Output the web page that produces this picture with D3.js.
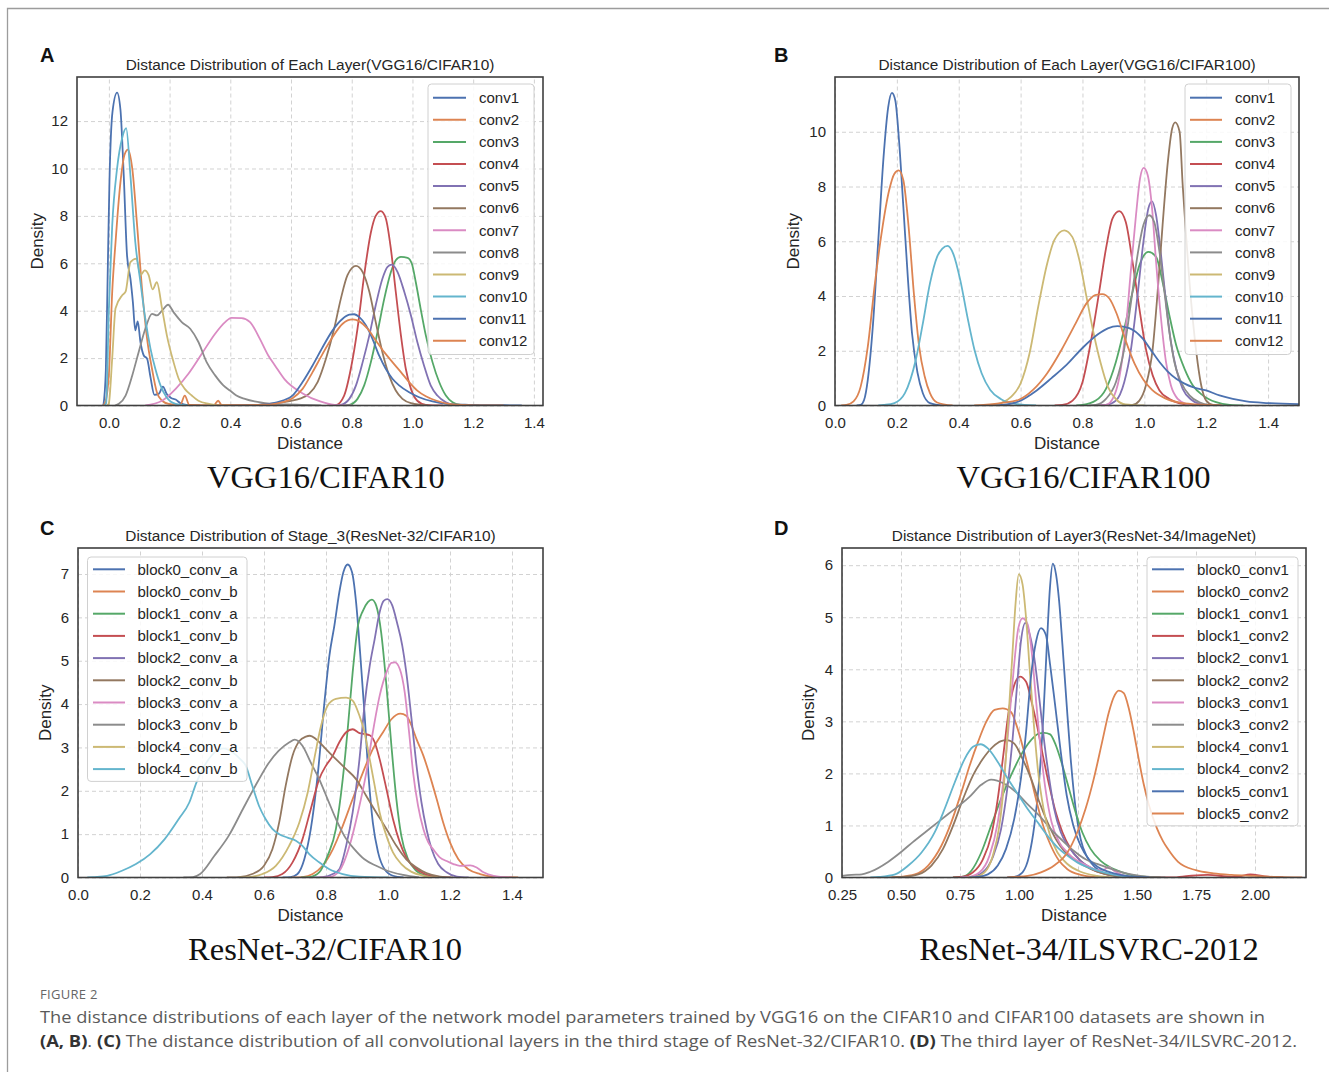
<!DOCTYPE html>
<html><head><meta charset="utf-8">
<script src="https://cdn.jsdelivr.net/npm/d3@7"></script>
<style>body{margin:0;background:#fff;} svg{display:block;}</style>
</head><body>
<svg id="fig" width="1329" height="1072"></svg>
<script>
// ---------------- DATA ----------------
const PALETTE = ["#4C72B0","#DD8452","#55A868","#C44E52","#8172B3","#937860","#DA8BC3","#8C8C8C","#CCB974","#64B5CD"];

const A_labels = ["conv1","conv2","conv3","conv4","conv5","conv6","conv7","conv8","conv9","conv10","conv11","conv12"];
const B_labels = A_labels;
const C_labels = ["block0_conv_a","block0_conv_b","block1_conv_a","block1_conv_b","block2_conv_a","block2_conv_b","block3_conv_a","block3_conv_b","block4_conv_a","block4_conv_b"];
const D_labels = ["block0_conv1","block0_conv2","block1_conv1","block1_conv2","block2_conv1","block2_conv2","block3_conv1","block3_conv2","block4_conv1","block4_conv2","block5_conv1","block5_conv2"];

const A_xticks = [0,0.2,0.4,0.6,0.8,1.0,1.2,1.4];
const A_yticks = [0,2,4,6,8,10,12];
const B_xticks = [0,0.2,0.4,0.6,0.8,1.0,1.2,1.4];
const B_yticks = [0,2,4,6,8,10];
const C_xticks = [0,0.2,0.4,0.6,0.8,1.0,1.2,1.4];
const C_yticks = [0,1,2,3,4,5,6,7];
const D_xticks = [0.25,0.5,0.75,1.0,1.25,1.5,1.75,2.0];
const D_yticks = [0,1,2,3,4,5,6];

// Panel A: VGG16/CIFAR10  [distance, density]
const A_conv1 = [[-0.018,0],[-0.01,1.5],[-0.004,5.5],[0.002,9.5],[0.012,12.4],[0.027,13.2],[0.038,12.5],[0.049,9.7],[0.06,6.3],[0.071,5.35],[0.079,4.37],[0.087,3.17],[0.095,3.55],[0.104,2.68],[0.115,2.11],[0.126,1.97],[0.137,1.2],[0.15,0.45],[0.165,0.5],[0.178,0.8],[0.19,0.5],[0.205,0.32],[0.22,0.25],[0.235,0.1],[0.26,0.02],[0.3,0]];
const A_conv2 = [[-0.02,0],[-0.013,0.1],[0,1.3],[0.011,4.8],[0.022,6.9],[0.038,9.4],[0.052,10.6],[0.063,10.8],[0.077,10.0],[0.093,7.6],[0.11,4.8],[0.126,2.8],[0.142,1.55],[0.158,0.56],[0.175,0.2],[0.197,0.07],[0.235,0.03],[0.25,0.42],[0.265,0.03],[0.345,0.01],[0.36,0.2],[0.372,0.01],[0.45,0]];
const A_conv3 = [[0.76,0],[0.792,0.03],[0.819,0.28],[0.841,0.85],[0.863,1.83],[0.885,3.1],[0.907,4.5],[0.929,5.63],[0.945,6.13],[0.962,6.27],[0.984,6.23],[0.998,5.98],[1.011,5.2],[1.027,4.08],[1.044,2.96],[1.066,1.83],[1.088,0.99],[1.11,0.42],[1.132,0.14],[1.159,0.03],[1.22,0]];
const A_conv4 = [[0.72,0],[0.748,0.02],[0.775,0.42],[0.797,1.55],[0.819,3.24],[0.841,5.5],[0.863,7.3],[0.879,8.0],[0.896,8.2],[0.912,7.9],[0.929,6.6],[0.945,4.8],[0.962,2.96],[0.978,1.55],[0.995,0.7],[1.016,0.2],[1.044,0.03],[1.1,0]];
const A_conv5 = [[0.73,0],[0.764,0.03],[0.792,0.28],[0.814,0.85],[0.836,1.83],[0.858,2.96],[0.879,4.23],[0.901,5.35],[0.918,5.85],[0.932,5.94],[0.951,5.63],[0.973,4.8],[0.995,3.8],[1.016,2.68],[1.038,1.69],[1.06,0.85],[1.082,0.42],[1.11,0.14],[1.14,0.03],[1.2,0]];
const A_conv6 = [[0.45,0],[0.529,0.07],[0.6,0.2],[0.627,0.28],[0.66,0.5],[0.688,1.0],[0.715,1.97],[0.742,3.24],[0.764,4.5],[0.786,5.5],[0.814,5.89],[0.836,5.63],[0.858,4.8],[0.879,3.52],[0.901,2.25],[0.923,1.27],[0.945,0.63],[0.967,0.28],[0.995,0.1],[1.05,0]];
const A_conv7 = [[0.12,0],[0.175,0.2],[0.22,0.7],[0.262,1.34],[0.306,2.18],[0.35,3.03],[0.383,3.52],[0.404,3.7],[0.437,3.69],[0.465,3.52],[0.497,2.82],[0.525,2.11],[0.547,1.69],[0.579,1.1],[0.637,0.52],[0.696,0.17],[0.743,0.03],[0.8,0]];
const A_conv8 = [[0.02,0],[0.033,0.07],[0.055,0.42],[0.077,1.27],[0.098,2.25],[0.12,3.24],[0.142,3.87],[0.158,3.8],[0.175,4.0],[0.195,4.25],[0.213,3.94],[0.24,3.52],[0.268,3.24],[0.295,2.68],[0.322,1.83],[0.35,1.27],[0.377,0.85],[0.399,0.63],[0.42,0.42],[0.448,0.28],[0.48,0.17],[0.514,0.1],[0.56,0.05],[0.62,0.04],[0.7,0]];
const A_conv9 = [[-0.005,0],[0.0,0.1],[0.011,2],[0.022,4.1],[0.044,4.65],[0.055,4.8],[0.071,6.05],[0.091,6.2],[0.104,5.5],[0.118,5.7],[0.131,5.5],[0.144,4.9],[0.158,5.2],[0.175,4.1],[0.191,2.96],[0.213,1.83],[0.23,1.13],[0.25,0.7],[0.273,0.42],[0.295,0.2],[0.33,0.07],[0.36,0.01],[0.4,0]];
const A_conv10 = [[-0.015,0],[-0.009,0.1],[0,4.1],[0.011,7.6],[0.027,10],[0.044,11.3],[0.057,11.7],[0.071,9.7],[0.087,6.9],[0.104,5.2],[0.12,3.66],[0.137,2.4],[0.153,1.55],[0.17,0.85],[0.19,0.35],[0.22,0.07],[0.26,0]];
const A_conv11 = [[0.4,0],[0.45,0.01],[0.5,0.04],[0.529,0.07],[0.573,0.21],[0.605,0.42],[0.638,0.99],[0.671,1.69],[0.704,2.46],[0.737,3.17],[0.77,3.66],[0.792,3.83],[0.808,3.85],[0.825,3.73],[0.847,3.38],[0.868,2.82],[0.89,2.11],[0.912,1.55],[0.934,1.13],[0.956,0.85],[0.989,0.56],[1.022,0.35],[1.066,0.17],[1.11,0.07],[1.186,0.03],[1.3,0.01],[1.36,0]];
const A_conv12 = [[0.35,0],[0.4,0.01],[0.45,0.02],[0.5,0.03],[0.529,0.04],[0.573,0.14],[0.605,0.31],[0.638,0.7],[0.671,1.41],[0.704,2.18],[0.737,2.89],[0.77,3.45],[0.803,3.63],[0.825,3.55],[0.852,3.24],[0.879,2.75],[0.907,2.25],[0.934,1.83],[0.962,1.41],[0.989,0.99],[1.016,0.63],[1.044,0.39],[1.077,0.21],[1.12,0.07],[1.186,0.02],[1.3,0]];

// Panel B: VGG16/CIFAR100
const B_conv1 = [[0.07,0],[0.083,0.02],[0.094,0.2],[0.106,0.94],[0.123,3.0],[0.14,6.04],[0.157,9.08],[0.172,10.9],[0.184,11.42],[0.195,11.14],[0.207,9.68],[0.221,7.25],[0.236,4.58],[0.249,2.64],[0.267,1.18],[0.284,0.45],[0.307,0.09],[0.35,0]];
const B_conv2 = [[0.02,0],[0.037,0.02],[0.06,0.15],[0.083,0.69],[0.106,2.15],[0.129,4.46],[0.152,6.4],[0.175,7.86],[0.192,8.47],[0.206,8.59],[0.221,8.23],[0.238,6.52],[0.255,4.09],[0.272,2.15],[0.29,1.06],[0.307,0.45],[0.33,0.11],[0.38,0]];
const B_conv3 = [[0.78,0],[0.8,0.02],[0.843,0.18],[0.876,0.61],[0.908,1.59],[0.935,2.8],[0.962,4.15],[0.984,5.12],[1.013,5.61],[1.038,5.43],[1.059,4.51],[1.081,3.29],[1.103,2.2],[1.13,1.34],[1.157,0.73],[1.189,0.37],[1.232,0.12],[1.276,0.02],[1.32,0]];
const B_conv4 = [[0.71,0],[0.735,0.02],[0.768,0.18],[0.8,0.85],[0.827,2.32],[0.854,4.15],[0.876,5.73],[0.897,6.83],[0.919,7.1],[0.94,6.7],[0.962,5.24],[0.984,3.54],[1.005,2.07],[1.027,1.1],[1.049,0.55],[1.081,0.24],[1.124,0.06],[1.18,0]];
const B_conv5 = [[0.85,0],[0.876,0.02],[0.908,0.18],[0.935,0.85],[0.957,2.07],[0.978,4.02],[0.997,5.98],[1.013,7.2],[1.025,7.46],[1.038,6.95],[1.054,5.49],[1.07,3.78],[1.086,2.32],[1.103,1.34],[1.124,0.61],[1.151,0.22],[1.178,0.06],[1.22,0]];
const B_conv6 = [[0.94,0],[0.962,0.02],[0.984,0.18],[1.005,0.73],[1.027,2.07],[1.043,4.15],[1.059,6.59],[1.076,8.9],[1.09,10.12],[1.1,10.34],[1.114,10.0],[1.124,8.05],[1.135,6.2],[1.146,4.5],[1.157,3.1],[1.168,1.95],[1.184,0.73],[1.2,0.18],[1.222,0.02],[1.25,0]];
const B_conv7 = [[0.85,0],[0.876,0.02],[0.903,0.37],[0.924,1.34],[0.941,2.93],[0.957,5.0],[0.973,6.95],[0.986,8.29],[0.998,8.68],[1.011,8.41],[1.025,7.2],[1.038,5.24],[1.054,3.17],[1.07,1.59],[1.086,0.73],[1.108,0.24],[1.135,0.06],[1.17,0]];
const B_conv8 = [[0.82,0],[0.843,0.02],[0.876,0.24],[0.908,0.85],[0.935,2.07],[0.957,3.78],[0.978,5.49],[0.997,6.59],[1.016,6.95],[1.032,6.7],[1.049,5.61],[1.065,4.15],[1.081,2.68],[1.097,1.59],[1.119,0.85],[1.146,0.37],[1.178,0.12],[1.211,0.02],[1.25,0]];
const B_conv9 = [[0.48,0],[0.502,0.02],[0.537,0.09],[0.571,0.33],[0.6,0.81],[0.629,1.91],[0.657,3.61],[0.686,5.19],[0.709,6.04],[0.741,6.4],[0.767,6.16],[0.79,5.31],[0.813,3.97],[0.836,2.64],[0.859,1.54],[0.882,0.69],[0.91,0.21],[0.939,0.04],[1.0,0]];
const B_conv10 = [[0.14,0],[0.157,0.02],[0.192,0.09],[0.226,0.45],[0.261,1.66],[0.284,3.0],[0.307,4.46],[0.33,5.43],[0.347,5.73],[0.364,5.83],[0.382,5.55],[0.405,4.58],[0.428,3.24],[0.451,2.03],[0.474,1.18],[0.502,0.57],[0.537,0.23],[0.583,0.06],[0.65,0]];
const B_conv11 = [[0.5,0],[0.537,0.02],[0.594,0.15],[0.652,0.55],[0.7,1.0],[0.75,1.5],[0.8,2.1],[0.85,2.6],[0.882,2.82],[0.913,2.9],[0.951,2.83],[0.995,2.44],[1.02,2.05],[1.049,1.59],[1.075,1.25],[1.103,0.98],[1.13,0.8],[1.157,0.67],[1.2,0.55],[1.243,0.37],[1.286,0.24],[1.33,0.15],[1.4,0.09],[1.5,0.05]];
const B_conv12 = [[0.45,0],[0.48,0.02],[0.537,0.09],[0.594,0.21],[0.64,0.57],[0.686,1.18],[0.732,2.03],[0.778,3.0],[0.813,3.73],[0.841,4.03],[0.864,4.07],[0.887,3.91],[0.91,3.37],[0.939,2.39],[0.968,1.54],[0.997,0.94],[1.025,0.57],[1.066,0.27],[1.111,0.11],[1.169,0.04],[1.25,0]];

// Panel C: ResNet-32/CIFAR10
const C_b0a = [[0.66,0],[0.686,0.01],[0.708,0.08],[0.73,0.42],[0.751,1.12],[0.773,2.35],[0.795,4.04],[0.811,5.12],[0.827,5.81],[0.843,6.58],[0.856,7.04],[0.87,7.22],[0.884,7.04],[0.897,6.35],[0.91,5.19],[0.924,3.81],[0.938,2.27],[0.951,1.27],[0.968,0.58],[0.989,0.19],[1.016,0.04],[1.05,0]];
const C_b0b = [[0.69,0],[0.724,0.01],[0.757,0.08],[0.789,0.27],[0.822,0.65],[0.854,1.19],[0.886,1.81],[0.919,2.42],[0.951,2.96],[0.984,3.35],[1.011,3.65],[1.04,3.78],[1.059,3.73],[1.076,3.5],[1.092,3.19],[1.114,2.81],[1.135,2.35],[1.157,1.81],[1.178,1.27],[1.2,0.81],[1.227,0.42],[1.259,0.19],[1.297,0.08],[1.341,0.02],[1.42,0]];
const C_b1a = [[0.72,0],[0.746,0.01],[0.778,0.12],[0.805,0.5],[0.832,1.12],[0.854,2.27],[0.87,3.42],[0.886,4.73],[0.903,5.81],[0.919,6.15],[0.935,6.35],[0.948,6.41],[0.962,6.27],[0.978,5.65],[0.995,4.42],[1.011,3.04],[1.027,1.81],[1.043,0.96],[1.065,0.42],[1.092,0.15],[1.124,0.04],[1.16,0]];
const C_b1b = [[0.6,0],[0.627,0.01],[0.659,0.08],[0.692,0.35],[0.724,0.88],[0.751,1.58],[0.778,2.27],[0.8,2.58],[0.822,2.81],[0.843,3.12],[0.865,3.35],[0.886,3.42],[0.908,3.33],[0.924,3.31],[0.941,3.28],[0.957,3.12],[0.973,2.73],[0.995,2.04],[1.016,1.35],[1.038,0.81],[1.059,0.46],[1.086,0.23],[1.119,0.08],[1.157,0.02],[1.2,0]];
const C_b2a = [[0.76,0],[0.789,0.01],[0.822,0.08],[0.843,0.19],[0.865,0.73],[0.886,1.5],[0.908,2.73],[0.924,3.96],[0.941,4.88],[0.957,5.5],[0.973,6.12],[0.986,6.38],[0.998,6.42],[1.014,6.27],[1.029,5.88],[1.046,5.35],[1.059,4.73],[1.076,3.65],[1.092,2.58],[1.108,1.73],[1.124,1.12],[1.141,0.65],[1.162,0.31],[1.189,0.12],[1.222,0.02],[1.26,0]];
const C_b2b = [[0.48,0],[0.519,0.01],[0.562,0.08],[0.6,0.27],[0.627,0.65],[0.649,1.27],[0.67,2.12],[0.692,2.81],[0.714,3.15],[0.735,3.25],[0.748,3.27],[0.768,3.19],[0.8,2.96],[0.832,2.73],[0.865,2.5],[0.897,2.27],[0.93,1.88],[0.962,1.5],[0.995,1.12],[1.027,0.73],[1.059,0.42],[1.092,0.23],[1.124,0.1],[1.168,0.02],[1.21,0]];
const C_b3a = [[0.78,0],[0.811,0.01],[0.843,0.15],[0.876,0.73],[0.903,1.5],[0.93,2.42],[0.951,3.35],[0.973,4.19],[0.995,4.73],[1.011,4.95],[1.022,4.96],[1.038,4.81],[1.054,4.27],[1.068,3.35],[1.081,2.42],[1.097,1.65],[1.114,1.12],[1.13,0.81],[1.146,0.65],[1.168,0.46],[1.189,0.38],[1.211,0.31],[1.232,0.27],[1.265,0.28],[1.286,0.23],[1.308,0.12],[1.341,0.04],[1.4,0]];
const C_b3b = [[0.34,0],[0.371,0.01],[0.394,0.08],[0.44,0.5],[0.486,0.96],[0.532,1.58],[0.578,2.19],[0.613,2.62],[0.647,2.92],[0.682,3.12],[0.699,3.18],[0.724,3.04],[0.751,2.65],[0.778,2.27],[0.805,1.81],[0.832,1.35],[0.859,0.96],[0.892,0.65],[0.924,0.42],[0.962,0.27],[1.0,0.15],[1.049,0.06],[1.1,0]];
const C_b4a = [[0.52,0],[0.551,0.01],[0.595,0.08],[0.638,0.27],[0.681,0.73],[0.714,1.27],[0.741,1.96],[0.762,2.73],[0.784,3.5],[0.805,3.96],[0.832,4.12],[0.865,4.15],[0.886,4.08],[0.908,3.73],[0.924,3.35],[0.941,2.73],[0.957,2.12],[0.973,1.5],[0.995,0.96],[1.016,0.58],[1.043,0.31],[1.076,0.13],[1.114,0.04],[1.16,0]];
const C_b4b = [[0.03,0],[0.048,0.01],[0.094,0.04],[0.14,0.15],[0.187,0.31],[0.233,0.54],[0.279,0.88],[0.325,1.35],[0.359,1.73],[0.382,2.19],[0.41,2.6],[0.44,2.88],[0.47,2.98],[0.5,2.88],[0.525,2.72],[0.541,2.58],[0.562,2.12],[0.584,1.65],[0.605,1.35],[0.627,1.12],[0.649,1.0],[0.676,0.92],[0.703,0.85],[0.724,0.73],[0.746,0.54],[0.778,0.35],[0.811,0.19],[0.854,0.08],[0.908,0.02],[1.0,0]];

// Panel D: ResNet-34/ImageNet
const D_b0c1 = [[0.95,0],[0.98,0.01],[1.015,0.1],[1.043,0.42],[1.065,1.0],[1.086,1.9],[1.104,3.18],[1.118,4.47],[1.131,5.56],[1.143,6.03],[1.157,5.82],[1.17,5.31],[1.184,4.47],[1.201,3.38],[1.219,2.28],[1.24,1.32],[1.261,0.74],[1.289,0.39],[1.324,0.19],[1.374,0.06],[1.444,0.01],[1.5,0]];
const D_b0c2 = [[0.45,0],[0.489,0.01],[0.559,0.06],[0.615,0.23],[0.671,0.61],[0.713,1.06],[0.756,1.64],[0.791,2.15],[0.826,2.6],[0.861,2.99],[0.896,3.22],[0.931,3.25],[0.966,3.18],[0.994,2.86],[1.022,2.41],[1.051,1.9],[1.079,1.38],[1.107,0.93],[1.135,0.61],[1.17,0.32],[1.205,0.16],[1.261,0.05],[1.317,0.01],[1.38,0]];
const D_b1c1 = [[0.72,0],[0.756,0.01],[0.798,0.13],[0.84,0.48],[0.882,1.0],[0.924,1.51],[0.966,1.96],[1.008,2.35],[1.051,2.64],[1.086,2.77],[1.107,2.78],[1.132,2.75],[1.156,2.54],[1.184,2.15],[1.212,1.7],[1.24,1.25],[1.268,0.87],[1.303,0.55],[1.346,0.32],[1.388,0.19],[1.437,0.1],[1.5,0.03],[1.6,0]];
const D_b1c2 = [[0.72,0],[0.756,0.01],[0.805,0.1],[0.847,0.35],[0.882,0.8],[0.91,1.51],[0.935,2.41],[0.956,3.18],[0.98,3.7],[1.004,3.86],[1.03,3.76],[1.053,3.38],[1.079,2.86],[1.104,2.28],[1.128,1.77],[1.156,1.25],[1.184,0.87],[1.219,0.55],[1.261,0.32],[1.31,0.16],[1.374,0.06],[1.444,0.02],[1.55,0],[1.65,0],[1.72,0.03],[1.8,0.05],[1.88,0.02],[1.92,0.01],[1.98,0.06],[2.04,0.02],[2.12,0]];
const D_b2c1 = [[0.76,0],[0.798,0.01],[0.847,0.1],[0.889,0.39],[0.924,0.93],[0.952,1.77],[0.973,2.67],[0.992,3.7],[1.008,4.53],[1.027,4.89],[1.046,4.66],[1.065,4.21],[1.086,3.44],[1.107,2.6],[1.128,1.9],[1.149,1.32],[1.177,0.87],[1.212,0.58],[1.254,0.35],[1.303,0.19],[1.36,0.08],[1.43,0.02],[1.5,0]];
const D_b2c2 = [[0.46,0],[0.503,0.01],[0.573,0.06],[0.629,0.23],[0.678,0.55],[0.721,1.0],[0.763,1.51],[0.805,1.96],[0.847,2.28],[0.889,2.51],[0.924,2.62],[0.948,2.64],[0.98,2.57],[1.015,2.28],[1.051,1.9],[1.086,1.45],[1.121,1.06],[1.156,0.74],[1.191,0.51],[1.233,0.35],[1.275,0.23],[1.331,0.11],[1.402,0.03],[1.5,0]];
const D_b3c1 = [[0.75,0],[0.784,0.01],[0.833,0.1],[0.875,0.42],[0.91,1.06],[0.938,2.03],[0.959,3.05],[0.978,4.02],[0.997,4.79],[1.015,4.98],[1.037,4.86],[1.055,4.28],[1.074,3.31],[1.093,2.41],[1.114,1.64],[1.138,1.06],[1.17,0.68],[1.205,0.48],[1.247,0.32],[1.289,0.23],[1.331,0.14],[1.36,0.15],[1.38,0.2],[1.402,0.13],[1.444,0.04],[1.5,0]];
const D_b3c2 = [[0.247,0.03],[0.29,0.05],[0.334,0.06],[0.37,0.11],[0.445,0.3],[0.503,0.5],[0.55,0.68],[0.625,0.95],[0.7,1.22],[0.79,1.55],[0.84,1.78],[0.882,1.88],[0.938,1.8],[0.987,1.64],[1.036,1.41],[1.086,1.19],[1.135,0.93],[1.184,0.71],[1.233,0.51],[1.282,0.35],[1.331,0.26],[1.374,0.19],[1.43,0.11],[1.486,0.05],[1.556,0.01],[1.62,0]];
const D_b4c1 = [[0.78,0],[0.812,0.01],[0.854,0.1],[0.889,0.42],[0.917,1.0],[0.938,1.9],[0.955,3.05],[0.971,4.21],[0.985,5.24],[0.999,5.83],[1.015,5.63],[1.03,4.98],[1.045,4.02],[1.062,2.99],[1.081,2.03],[1.104,1.32],[1.132,0.8],[1.163,0.48],[1.205,0.26],[1.261,0.11],[1.331,0.03],[1.4,0]];
const D_b4c2 = [[0.37,0],[0.405,0.01],[0.475,0.06],[0.531,0.23],[0.587,0.48],[0.643,0.87],[0.685,1.32],[0.728,1.83],[0.77,2.28],[0.805,2.51],[0.837,2.56],[0.868,2.48],[0.91,2.22],[0.952,1.9],[0.994,1.61],[1.036,1.32],[1.079,1.06],[1.121,0.8],[1.163,0.58],[1.205,0.42],[1.247,0.29],[1.296,0.19],[1.36,0.1],[1.43,0.03],[1.5,0]];
const D_b5c1 = [[0.79,0],[0.826,0.01],[0.868,0.06],[0.91,0.23],[0.945,0.55],[0.98,1.13],[1.008,1.9],[1.03,2.8],[1.05,3.83],[1.072,4.53],[1.093,4.79],[1.114,4.66],[1.132,4.08],[1.153,3.31],[1.177,2.41],[1.202,1.58],[1.23,1.0],[1.261,0.61],[1.296,0.35],[1.338,0.19],[1.402,0.08],[1.472,0.02],[1.55,0]];
const D_b5c2 = [[0.95,0],[0.98,0.01],[1.036,0.03],[1.093,0.1],[1.149,0.23],[1.205,0.48],[1.247,0.87],[1.282,1.32],[1.317,1.9],[1.352,2.6],[1.381,3.18],[1.402,3.47],[1.423,3.59],[1.444,3.54],[1.465,3.25],[1.486,2.8],[1.507,2.28],[1.528,1.8],[1.55,1.4],[1.584,0.95],[1.61,0.7],[1.629,0.56],[1.674,0.3],[1.749,0.14],[1.824,0.08],[1.9,0.05],[2.0,0.03],[2.09,0.01],[2.2,0]];

// ---------------- LAYOUT ----------------
const panels = [
  {letter:"A", title:"Distance Distribution of Each Layer(VGG16/CIFAR10)", sub:"VGG16/CIFAR10",
   box:{l:77,t:77,r:543,b:405.5}, xdom:[-0.105,1.43], ydom:[0,13.86], xfmt:".1f",
   xticks:A_xticks, yticks:A_yticks, labels:A_labels,
   series:[A_conv1,A_conv2,A_conv3,A_conv4,A_conv5,A_conv6,A_conv7,A_conv8,A_conv9,A_conv10,A_conv11,A_conv12],
   letterPos:[40,62], ylabX:43, subPos:[326,488],
   legend:{x:428,y:84,w:106,row0:97.7,step:22.1,l1:433,l2:466,tx:479}},
  {letter:"B", title:"Distance Distribution of Each Layer(VGG16/CIFAR100)", sub:"VGG16/CIFAR100",
   box:{l:835,t:77,r:1299,b:405.5}, xdom:[0,1.5], ydom:[0,12.0], xfmt:".1f",
   xticks:B_xticks, yticks:B_yticks, labels:B_labels,
   series:[B_conv1,B_conv2,B_conv3,B_conv4,B_conv5,B_conv6,B_conv7,B_conv8,B_conv9,B_conv10,B_conv11,B_conv12],
   letterPos:[774,62], ylabX:799, subPos:[1083.5,488],
   legend:{x:1185,y:84,w:106,row0:97.7,step:22.1,l1:1190,l2:1222,tx:1235}},
  {letter:"C", title:"Distance Distribution of Stage_3(ResNet-32/CIFAR10)", sub:"ResNet-32/CIFAR10",
   box:{l:78,t:548,r:543,b:877.5}, xdom:[0,1.5], ydom:[0,7.6], xfmt:".1f",
   xticks:C_xticks, yticks:C_yticks, labels:C_labels,
   series:[C_b0a,C_b0b,C_b1a,C_b1b,C_b2a,C_b2b,C_b3a,C_b3b,C_b4a,C_b4b],
   letterPos:[40,535], ylabX:51, subPos:[325,960],
   legend:{x:87.5,y:557,w:159.5,row0:569.3,step:22.2,l1:93,l2:125,tx:137.5}},
  {letter:"D", title:"Distance Distribution of Layer3(ResNet-34/ImageNet)", sub:"ResNet-34/ILSVRC-2012",
   box:{l:842,t:548,r:1306,b:877.5}, xdom:[0.25,2.216], ydom:[0,6.33], xfmt:".2f",
   xticks:D_xticks, yticks:D_yticks, labels:D_labels,
   series:[D_b0c1,D_b0c2,D_b1c1,D_b1c2,D_b2c1,D_b2c2,D_b3c1,D_b3c2,D_b4c1,D_b4c2,D_b5c1,D_b5c2],
   letterPos:[774,535], ylabX:814, subPos:[1089,960],
   legend:{x:1147,y:557,w:151,row0:569.3,step:22.2,l1:1152,l2:1184,tx:1197}}
];

const SANS = "'Liberation Sans', Arial, Helvetica, sans-serif";
const SERIF = "'Liberation Serif', 'Times New Roman', serif";
const TXT = "#262626";

const svg = d3.select("#fig");
svg.append("rect").attr("width",1329).attr("height",1072).attr("fill","#fff");
// outer frame (top + left)
svg.append("path").attr("d","M7.5,1072 V8.5 H1329").attr("fill","none").attr("stroke","#9c9c9c").attr("stroke-width",1.3);

const defs = svg.append("defs");

panels.forEach(p => {
  const B = p.box;
  const g = svg.append("g");
  const x = d3.scaleLinear().domain(p.xdom).range([B.l, B.r]);
  const y = d3.scaleLinear().domain(p.ydom).range([B.b, B.t]);

  g.append("rect").attr("x",B.l).attr("y",B.t).attr("width",B.r-B.l).attr("height",B.b-B.t).attr("fill","#fff");

  // grid
  const gx = g.append("g").attr("transform",`translate(0,${B.b})`)
    .call(d3.axisBottom(x).tickValues(p.xticks).tickSize(-(B.b-B.t)).tickFormat(""));
  gx.select(".domain").remove();
  gx.selectAll("line").attr("stroke","#d2d2d2").attr("stroke-width",1).attr("stroke-dasharray","4,3");
  const gy = g.append("g").attr("transform",`translate(${B.l},0)`)
    .call(d3.axisLeft(y).tickValues(p.yticks).tickSize(-(B.r-B.l)).tickFormat(""));
  gy.select(".domain").remove();
  gy.selectAll("line").attr("stroke","#d2d2d2").attr("stroke-width",1).attr("stroke-dasharray","4,3");

  // clip
  const cid = "clip" + p.letter;
  defs.append("clipPath").attr("id",cid).append("rect")
    .attr("x",B.l).attr("y",B.t).attr("width",B.r-B.l).attr("height",B.b-B.t);

  const line = d3.line().x(d => x(d[0])).y(d => y(d[1])).curve(d3.curveMonotoneX);
  const lg = g.append("g").attr("clip-path",`url(#${cid})`);
  p.series.forEach((s,i) => {
    lg.append("path").attr("d", line(s)).attr("fill","none")
      .attr("stroke", PALETTE[i % 10]).attr("stroke-width",1.8).attr("stroke-linejoin","round");
  });

  // frame
  g.append("rect").attr("x",B.l).attr("y",B.t).attr("width",B.r-B.l).attr("height",B.b-B.t)
    .attr("fill","none").attr("stroke","#3f3f3f").attr("stroke-width",1.6);

  // tick labels
  const xa = g.append("g").attr("transform",`translate(0,${B.b})`)
    .call(d3.axisBottom(x).tickValues(p.xticks).tickSize(0).tickPadding(12).tickFormat(d3.format(p.xfmt)));
  xa.select(".domain").remove();
  xa.selectAll("text").attr("font-family",SANS).attr("font-size",15).attr("fill",TXT);
  const ya = g.append("g").attr("transform",`translate(${B.l},0)`)
    .call(d3.axisLeft(y).tickValues(p.yticks).tickSize(0).tickPadding(9).tickFormat(d3.format("d")));
  ya.select(".domain").remove();
  ya.selectAll("text").attr("font-family",SANS).attr("font-size",15).attr("fill",TXT);

  // axis labels
  g.append("text").attr("x",(B.l+B.r)/2).attr("y",B.b+43).attr("text-anchor","middle")
    .attr("font-family",SANS).attr("font-size",17).attr("fill",TXT).text("Distance");
  g.append("text").attr("transform",`translate(${p.ylabX},${(B.t+B.b)/2}) rotate(-90)`).attr("text-anchor","middle")
    .attr("font-family",SANS).attr("font-size",17).attr("fill",TXT).text("Density");

  // title
  g.append("text").attr("x",(B.l+B.r)/2).attr("y",B.t-7).attr("text-anchor","middle")
    .attr("font-family",SANS).attr("font-size",15.4).attr("fill",TXT).text(p.title);

  // panel letter
  g.append("text").attr("x",p.letterPos[0]).attr("y",p.letterPos[1])
    .attr("font-family",SANS).attr("font-weight","bold").attr("font-size",20).attr("fill","#111").text(p.letter);

  // subtitle (serif)
  g.append("text").attr("x",p.subPos[0]).attr("y",p.subPos[1]).attr("text-anchor","middle")
    .attr("font-family",SERIF).attr("font-size",32.5).attr("fill","#111").text(p.sub);

  // legend
  const L = p.legend;
  const n = p.labels.length;
  const h = (L.row0 - L.y) + L.step*(n-1) + (L.row0 - L.y);
  const leg = g.append("g");
  leg.append("rect").attr("x",L.x).attr("y",L.y).attr("width",L.w).attr("height",h)
    .attr("rx",3.5).attr("fill","#fff").attr("fill-opacity",0.85).attr("stroke","#d0d0d0").attr("stroke-width",1);
  p.labels.forEach((lab,i) => {
    const yy = L.row0 + i*L.step;
    leg.append("line").attr("x1",L.l1).attr("x2",L.l2).attr("y1",yy).attr("y2",yy)
      .attr("stroke",PALETTE[i % 10]).attr("stroke-width",2);
    leg.append("text").attr("x",L.tx).attr("y",yy).attr("dy","0.35em")
      .attr("font-family",SANS).attr("font-size",15).attr("fill",TXT).text(lab);
  });
});

// caption
const CAP = "'Open Sans', 'Noto Sans', sans-serif";
svg.append("text").attr("x",40).attr("y",999).attr("font-family",CAP).attr("font-size",13)
  .attr("fill","#666").attr("letter-spacing",0.3).text("FIGURE 2");
svg.append("text").attr("x",40).attr("y",1023).attr("font-family",CAP).attr("font-size",16.5)
  .attr("fill","#5a5a5a").attr("textLength",1225).attr("lengthAdjust","spacingAndGlyphs")
  .text("The distance distributions of each layer of the network model parameters trained by VGG16 on the CIFAR10 and CIFAR100 datasets are shown in");
const l2 = svg.append("text").attr("x",40).attr("y",1047).attr("font-family",CAP).attr("font-size",16.5)
  .attr("fill","#5a5a5a").attr("textLength",1257).attr("lengthAdjust","spacingAndGlyphs");
const parts = [["(A, B)",true],[". ",false],["(C)",true],[" The distance distribution of all convolutional layers in the third stage of ResNet-32/CIFAR10. ",false],["(D)",true],[" The third layer of ResNet-34/ILSVRC-2012.",false]];
parts.forEach(([t,b]) => {
  l2.append("tspan").attr("font-weight", b ? "bold" : "normal").attr("fill", b ? "#333" : "#5a5a5a").text(t);
});
</script>
</body></html>
